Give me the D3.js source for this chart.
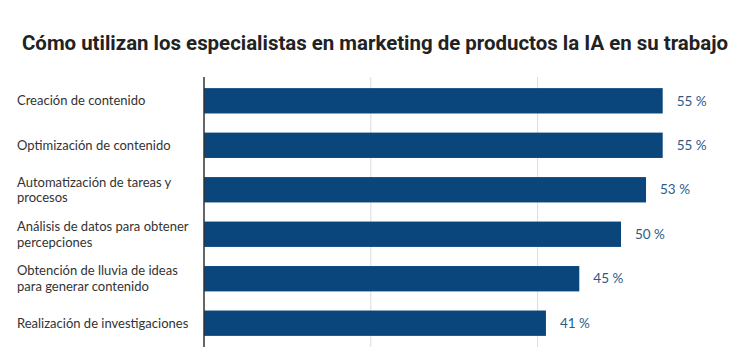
<!DOCTYPE html>
<html>
<head>
<meta charset="utf-8">
<script src="https://cdn.jsdelivr.net/npm/d3@7"></script>
<style>
  body { margin: 0; background: #fff; }
  text { font-family: Lato, "Open Sans", sans-serif; }
</style>
</head>
<body>
<div id="chart"></div>
<script>
// Chart data
const categories = [
  ["Creación de contenido"],
  ["Optimización de contenido"],
  ["Automatización de tareas y", "procesos"],
  ["Análisis de datos para obtener", "percepciones"],
  ["Obtención de lluvia de ideas", "para generar contenido"],
  ["Realización de investigaciones"]
]
const values = [55, 55, 53, 50, 45, 41]
const gridTicks = [0, 20, 40]
const title = "Cómo utilizan los especialistas en marketing de productos la IA en su trabajo"

const svgWidth = 750
const svgHeight = 363

let margin = { top: 77, right: 46, bottom: 16, left: 204 }

let width = svgWidth - margin.left - margin.right
let height = svgHeight - margin.top - margin.bottom

let svg = d3
  .select("#chart")
  .append("svg")
  .attr("width", svgWidth)
  .attr("height", svgHeight)

// Title
svg
  .append("text")
  .attr("x", 22)
  .attr("y", 50)
  .attr("textLength", 706)
  .attr("lengthAdjust", "spacingAndGlyphs")
  .style("font-family", "Roboto, sans-serif")
  .style("font-weight", 700)
  .style("font-size", "20px")
  .style("fill", "#222")
  .text(title)

let chartGroup = svg
  .append("g")
  .attr("transform", `translate(${margin.left}, ${margin.top})`)

let xScale = d3.scaleLinear().domain([0, 55]).range([0, 458.7])

let yScale = d3
  .scaleBand()
  .domain(d3.range(categories.length))
  .range([0, height])
  .paddingInner(0.43)
  .paddingOuter(0.25)

// Grid lines
chartGroup
  .selectAll(".grid")
  .data(gridTicks.slice(1))
  .enter()
  .append("line")
  .attr("x1", d => xScale(d))
  .attr("x2", d => xScale(d))
  .attr("y1", 0)
  .attr("y2", height)
  .attr("stroke", "#dcdcdc")
  .attr("stroke-width", 1)

// Bars
chartGroup
  .selectAll("rect")
  .data(values)
  .enter()
  .append("rect")
  .attr("x", 0)
  .attr("y", (d, i) => yScale(i))
  .attr("width", d => xScale(d))
  .attr("height", yScale.bandwidth())
  .attr("fill", "#0a467c")

// Value labels
chartGroup
  .selectAll(".value")
  .data(values)
  .enter()
  .append("text")
  .attr("x", d => xScale(d) + 14)
  .attr("y", (d, i) => yScale(i) + yScale.bandwidth() / 2)
  .attr("dy", "0.35em")
  .style("font-size", "13.5px")
  .style("fill", "#2e5a86")
  .text(d => d + " %")

// Category labels
let catGroup = chartGroup
  .selectAll(".cat")
  .data(categories)
  .enter()
  .append("text")
  .attr("x", 17 - margin.left)
  .attr("y", (d, i) => yScale(i) + yScale.bandwidth() / 2)
  .style("font-size", "13px")
  .style("fill", "#333")

catGroup
  .selectAll("tspan")
  .data(d => d)
  .enter()
  .append("tspan")
  .attr("x", 17 - margin.left)
  .attr("dy", (d, i, nodes) => i === 0 ? (0.35 - (nodes.length - 1) * 0.6) + "em" : "1.2em")
  .text(d => d)

// Axis line
chartGroup
  .append("line")
  .attr("x1", 0)
  .attr("x2", 0)
  .attr("y1", 0)
  .attr("y2", height)
  .attr("stroke", "#333")
  .attr("stroke-width", 1.5)
</script>
</body>
</html>
